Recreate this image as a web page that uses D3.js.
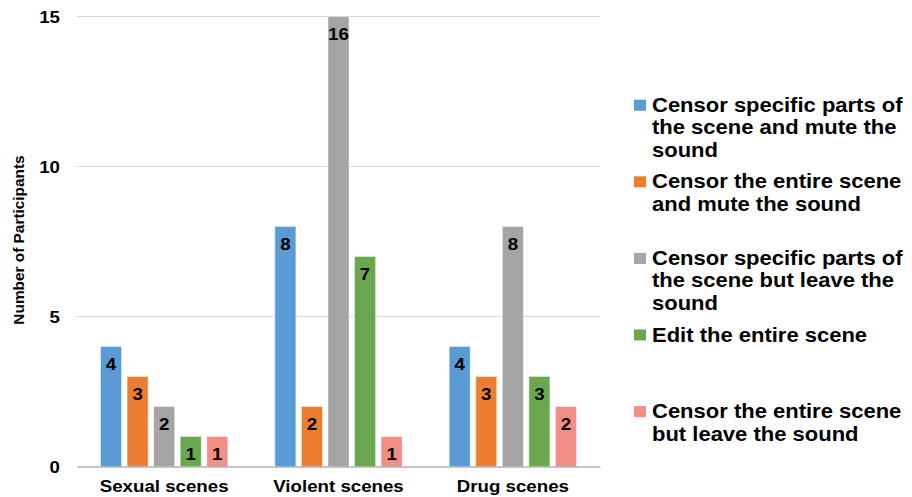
<!DOCTYPE html>
<html>
<head>
<meta charset="utf-8">
<script src="https://cdn.jsdelivr.net/npm/d3@7"></script>
<style>
  html, body { margin: 0; padding: 0; background: #fff; }
  svg { display: block; }
  text { font-family: "Liberation Sans", Arial, Helvetica, sans-serif; font-weight: bold; fill: #000; }
</style>
</head>
<body>
<svg id="chart" width="912" height="497"></svg>
<script>
// Scene categories along the x axis
const categories = ["Sexual scenes", "Violent scenes", "Drug scenes"];

// Response options (series)
const seriesNames = [
  "Censor specific parts of the scene and mute the sound",
  "Censor the entire scene and mute the sound",
  "Censor specific parts of the scene but leave the sound",
  "Edit the entire scene",
  "Censor the entire scene but leave the sound"
];

// Legend wording split into lines
const legendLines = [
  ["Censor specific parts of", "the scene and mute the", "sound"],
  ["Censor the entire scene", "and mute the sound"],
  ["Censor specific parts of", "the scene but leave the", "sound"],
  ["Edit the entire scene"],
  ["Censor the entire scene", "but leave the sound"]
];

// Number of participants per series, one value per category
const censorPartsMute  = [4, 8, 4];
const censorEntireMute = [3, 2, 3];
const censorPartsKeep  = [2, 16, 8];
const editEntire       = [1, 7, 3];
const censorEntireKeep = [1, 1, 2];

const yTicks = [0, 5, 10, 15];
const colors = ["#5B9BD5", "#ED7D31", "#A5A5A5", "#6AA84F", "#F28E86"];

const seriesValues = [censorPartsMute, censorEntireMute, censorPartsKeep, editEntire, censorEntireKeep];
const rows = categories.map((c, ci) => ({
  category: c,
  values: seriesNames.map((s, si) => ({ series: s, value: seriesValues[si][ci] }))
}));

const svg = d3.select("#chart");
const plot = { left: 77, right: 600, top: 16.5, bottom: 466.5 };
const stretch = 1.1; // wide lettering

const yMax = 15;
const y = d3.scaleLinear().domain([0, yMax]).range([plot.bottom, plot.top]);
const x0 = d3.scaleBand().domain(categories).range([plot.left, plot.right]).padding(0);
const bw = x0.bandwidth();
const x1 = d3.scaleBand().domain(seriesNames).range([bw * 0.135, bw * 0.865]).paddingInner(0.21).paddingOuter(0);
const color = d3.scaleOrdinal().domain(seriesNames).range(colors);

// Horizontal gridlines
svg.append("g").selectAll("line").data(yTicks.filter(t => t > 0)).join("line")
  .attr("x1", plot.left).attr("x2", plot.right)
  .attr("y1", d => y(d)).attr("y2", d => y(d))
  .attr("stroke", "#d9d9d9").attr("stroke-width", 1);

// Y axis tick labels
const yAxis = d3.axisLeft(y).tickValues(yTicks).tickSize(0).tickPadding(17);
const yg = svg.append("g").attr("transform", `translate(${plot.left},0)`).call(yAxis);
yg.select(".domain").remove();
yg.selectAll("text")
  .style("font-size", "17px").style("font-family", null).attr("fill", "#000")
  .attr("dy", "0.36em")
  .attr("transform", function () {
    const xx = +d3.select(this).attr("x");
    return `translate(${xx * (1 - stretch)},0) scale(${stretch},1)`;
  });

// Bars
const groups = svg.append("g").selectAll("g").data(rows).join("g")
  .attr("transform", d => `translate(${x0(d.category)},0)`);

groups.selectAll("rect").data(d => d.values).join("rect")
  .attr("x", d => x1(d.series))
  .attr("width", x1.bandwidth())
  .attr("y", d => y(Math.min(d.value, yMax)))
  .attr("height", d => y(0) - y(Math.min(d.value, yMax)))
  .attr("fill", d => color(d.series))
  .attr("stroke", "#fff").attr("stroke-opacity", 0.5).attr("stroke-width", 0.8);

// Value labels inside bar tops
groups.selectAll("text.val").data(d => d.values).join("text")
  .attr("class", "val")
  .attr("text-anchor", "middle")
  .style("font-size", "17px")
  .attr("transform", d => `translate(${x1(d.series) + x1.bandwidth() / 2},${y(Math.min(d.value, yMax)) + 23.5}) scale(${stretch},1)`)
  .text(d => d.value);

// X axis baseline and category labels
const xAxis = d3.axisBottom(x0).tickSize(0).tickPadding(0);
const xg = svg.append("g").attr("transform", `translate(0,${plot.bottom})`).call(xAxis);
xg.select(".domain").attr("stroke", "#8c8c8c").attr("stroke-width", 1.2);
xg.selectAll("text")
  .style("font-size", "17px").style("font-family", null).attr("fill", "#000")
  .attr("y", 0).attr("dy", 0)
  .attr("transform", `translate(0,25) scale(${stretch},1)`)
  .attr("x", 0);
xg.selectAll(".tick").each(function (d) {
  const cx = x0(d) + bw / 2;
  d3.select(this).attr("transform", `translate(${cx},0)`);
});

// Y axis title
svg.append("text")
  .attr("text-anchor", "middle")
  .style("font-size", "14px")
  .attr("transform", `translate(23.5,240) rotate(-90) scale(${stretch},1)`)
  .text("Number of Participants");

// Legend
const legend = svg.append("g");
const items = legend.selectAll("g").data(seriesNames).join("g")
  .attr("transform", (d, i) => `translate(634,${111.7 + i * 76.6})`);
items.append("rect")
  .attr("x", 0).attr("y", -12).attr("width", 12).attr("height", 11)
  .attr("fill", d => color(d));
items.append("text")
  .style("font-size", "20px")
  .attr("transform", `translate(18,0) scale(${stretch},1)`)
  .selectAll("tspan").data((d, i) => legendLines[i]).join("tspan")
  .attr("x", 0).attr("y", (d, j) => j * 22.6)
  .text(d => d);
</script>
</body>
</html>
